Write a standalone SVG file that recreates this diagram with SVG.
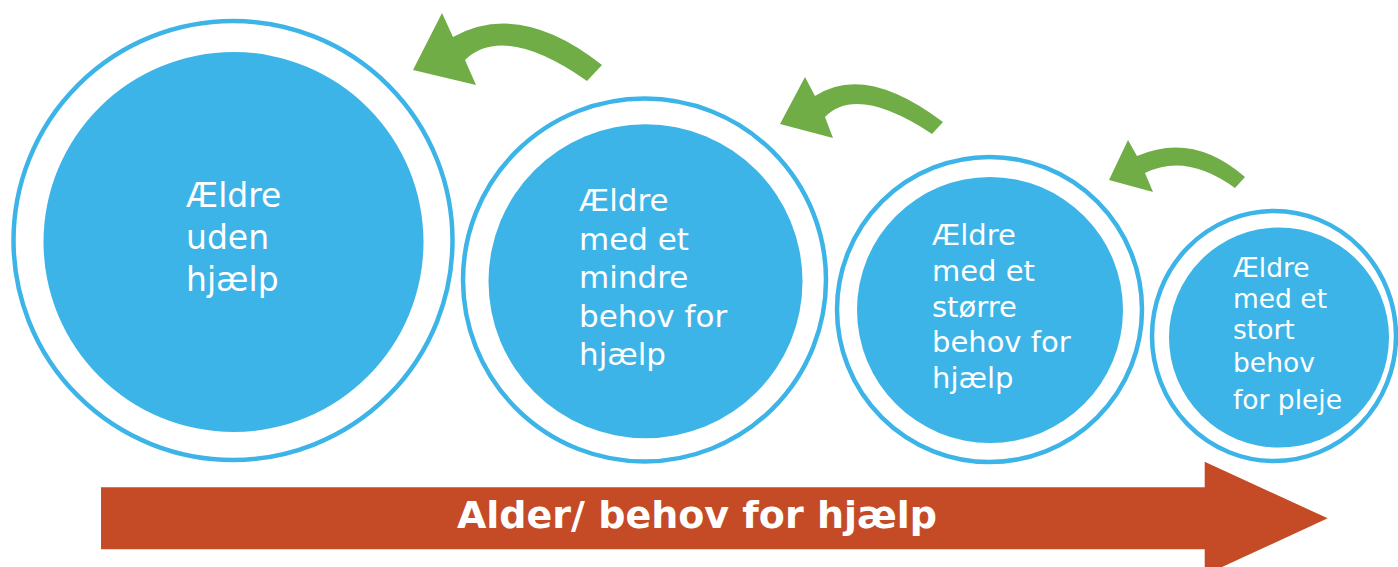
<svg xmlns="http://www.w3.org/2000/svg" width="1398" height="567" viewBox="0 0 1398 567">
<style>
.ring{fill:none;stroke:#3DB4E7;stroke-width:4.5}
.core{fill:#3DB4E7}
.lbl{fill:#FFFFFF;font-family:"DejaVu Sans",Verdana,sans-serif}
.green{fill:#70AD47}
.red{fill:#C54B26}
.bar{fill:#FFFFFF;font-family:"DejaVu Sans","Liberation Sans",sans-serif;font-weight:bold;font-size:38px}
</style>
<rect width="1398" height="567" fill="#FFFFFF"/>
<g id="node1">
<circle class="ring" cx="233" cy="240.5" r="219.5"/>
<circle class="core" cx="233.5" cy="242" r="190"/>
<text class="lbl" font-size="33" x="186"><tspan x="186" y="207">Ældre</tspan><tspan x="186" y="249">uden</tspan><tspan x="186" y="291">hjælp</tspan></text>
</g>
<g id="node2">
<circle class="ring" cx="644.5" cy="280" r="181.5"/>
<circle class="core" cx="645.5" cy="281.3" r="157"/>
<text class="lbl" font-size="31"><tspan x="579" y="211">Ældre</tspan><tspan x="579" y="250">med et</tspan><tspan x="579" y="288">mindre</tspan><tspan x="579" y="327">behov for</tspan><tspan x="579" y="365">hjælp</tspan></text>
</g>
<g id="node3">
<circle class="ring" cx="989.5" cy="309.5" r="152.5"/>
<circle class="core" cx="990" cy="310" r="133"/>
<text class="lbl" font-size="29"><tspan x="932" y="245">Ældre</tspan><tspan x="932" y="281">med et</tspan><tspan x="932" y="317">større</tspan><tspan x="932" y="352">behov for</tspan><tspan x="932" y="388">hjælp</tspan></text>
</g>
<g id="node4">
<ellipse class="ring" cx="1274" cy="336" rx="122" ry="125"/>
<circle class="core" cx="1279" cy="337.5" r="110"/>
<text class="lbl" font-size="26.5"><tspan x="1233" y="277">Ældre</tspan><tspan x="1233" y="308">med et</tspan><tspan x="1233" y="339">stort</tspan><tspan x="1233" y="372">behov</tspan><tspan x="1233" y="409">for pleje</tspan></text>
</g>
<g id="connectors">
<path class="green" d="M413,70 L442,13 L453,37 Q520,0 602,65 L587,81 Q504,23 465,60 L476,85 Z"/>
<path class="green" d="M780,124 L805,77 L815,96 Q865,63 943,122 L932,134 Q857,84.5 825,117 L833,138 Z"/>
<path class="green" d="M1109,180 L1128,140 L1137,156 Q1193,131.5 1245,177 L1235,188 Q1186,152.5 1145,173 L1153,192 Z"/>
</g>
<g id="axis">
<path class="red" d="M101,487.3 L1204.7,487.3 L1204.7,461.7 L1327.7,518.3 L1204.7,575 L1204.7,549.3 L101,549.3 Z"/>
<text class="bar" x="697" y="528" text-anchor="middle">Alder/ behov for hjælp</text>
</g>
</svg>
